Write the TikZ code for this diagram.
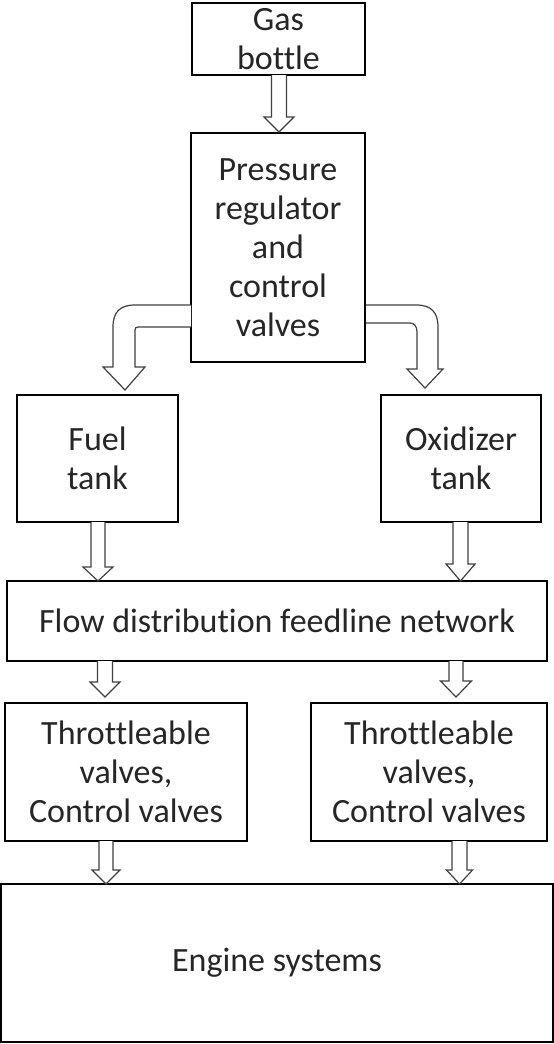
\documentclass[tikz,border=0pt]{standalone}
\usepackage{fontspec}
\setmainfont{Carlito}[Ligatures=NoCommon]
\begin{document}
\begin{tikzpicture}[x=1pt,y=-1pt,
  box/.style={draw=black, line width=1.5pt, fill=white, inner sep=0pt, align=center,
    font=\fontsize{34}{39}\selectfont, text=black!85},
  barrowline/.style={draw=black!75, line width=1.2pt, fill=white, line join=miter}]
\useasboundingbox (0,0) rectangle (554,1044);
\newcommand\barrow[7]{% xc, y1, y2, shaft half, head half, head len, name
  \draw[barrowline] (#1-#4,#2) -- (#1-#4,#3-#6) -- (#1-#5,#3-#6) -- (#1,#3)
     -- (#1+#5,#3-#6) -- (#1+#4,#3-#6) -- (#1+#4,#2);}
% boxes
\node[box, minimum width=173pt, minimum height=72pt] (gas) at (278.5,39) {Gas\\bottle};
\node[box, minimum width=174pt, minimum height=229pt] (press) at (278,247.5) {Pressure\\regulator\\and\\control\\valves};
\node[box, minimum width=161pt, minimum height=127pt] (fuel) at (97.5,458.5) {Fuel\\tank};
\node[box, minimum width=160pt, minimum height=127pt] (ox) at (461,458.5) {Oxidizer\\tank};
\node[box, minimum width=540pt, minimum height=80pt] (flow) at (277,621) {Flow distribution feedline network};
\node[box, minimum width=242pt, minimum height=138pt] (thl) at (126,772) {Throttleable\\valves,\\Control valves};
\node[box, minimum width=236pt, minimum height=138pt] (thr) at (429,772) {Throttleable\\valves,\\Control valves};
\node[box, minimum width=552pt, minimum height=158pt] (eng) at (277,963) {Engine systems};
% straight block arrows
\barrow{279}{75}{132}{7.5}{15}{15}{a1}
\barrow{98}{522}{581}{7}{15}{14}{a2}
\barrow{460.5}{522}{581}{7.5}{14.5}{17}{a3}
\barrow{105}{661}{697}{7.5}{15}{15}{a4}
\barrow{456}{661}{697}{7}{15.5}{16}{a5}
\barrow{106}{841}{884}{7}{14}{14}{a6}
\barrow{459.5}{841}{884}{7.5}{13}{14}{a7}
% curved block arrows
\draw[barrowline] (191,305) -- (135,305) .. controls (120,305) and (113,312) .. (113,327)
  -- (113,367) -- (103,367) -- (125,390) -- (145,367) -- (135,367) -- (135,330)
  .. controls (135,328) and (136,327) .. (138,327) -- (191,327);
\draw[barrowline] (366,305) -- (416,305) .. controls (431,305) and (438,312) .. (438,327)
  -- (438,369) -- (443,369) -- (425,388) -- (407,369) -- (417,369) -- (417,332)
  .. controls (417,326) and (414,323) .. (410,323) -- (366,323);
\end{tikzpicture}
\end{document}
